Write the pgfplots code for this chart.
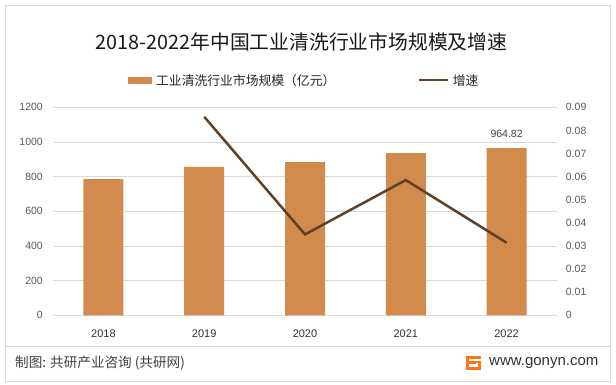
\documentclass[border=0pt]{standalone}
\usepackage{pgfplots}
\pgfplotsset{compat=1.18}
\usepackage{fontspec}
\setmainfont{Liberation Sans}
\newfontfamily\cjk{Noto Sans CJK SC}
\definecolor{barcol}{HTML}{D38B4D}
\definecolor{linecol}{HTML}{5E4127}
\definecolor{gridcol}{HTML}{D9D9D9}
\definecolor{tickcol}{HTML}{595959}
\definecolor{xcol}{HTML}{333333}
\definecolor{framecol}{HTML}{D9D9D9}
\begin{document}
\begin{tikzpicture}
\path[use as bounding box] (0pt,0pt) rectangle (616pt,385pt);
\fill[white] (0pt,0pt) rectangle (616pt,385pt);
\draw[framecol, line width=0.8pt] (5.5pt,4pt) rectangle (610pt,380pt);
\draw[framecol, line width=0.8pt] (5.5pt,39pt) -- (610pt,39pt);
% title
\node[font=\cjk\fontsize{19.8}{22}\selectfont, text=black!90, inner sep=0pt] at (301.5pt,343pt) {2018-2022年中国工业清洗行业市场规模及增速};
% footer
\node[font=\cjk\fontsize{13.6}{15}\selectfont, text=black!75, anchor=west, inner sep=0pt] at (15pt,22pt) {制图: 共研产业咨询 (共研网)};
\node[font=\fontsize{15}{17}\selectfont, text=black!80, anchor=west, inner sep=0pt] at (489pt,22pt) {www.gonyn.com};
\fill[orange!80!red!90] (466pt,15pt) rectangle (481pt,29pt);
\fill[white] (469pt,24pt) rectangle (481pt,26pt);
\fill[white] (469pt,18pt) rectangle (476pt,21pt);
\fill[white] (476pt,18pt) rectangle (478pt,22pt);

\begin{axis}[
  at={(53pt,69.7pt)}, anchor=south west,
  scale only axis, width=504pt, height=208pt,
  xmin=-0.5, xmax=4.5, ymin=0, ymax=1200,
  xtick={0,1,2,3,4}, xticklabels={2018,2019,2020,2021,2022},
  ytick={0,200,...,1200},
  ymajorgrids, grid style={gridcol, line width=0.8pt},
  axis line style={draw=none},
  major tick length=0pt,
  /pgf/number format/assume math mode=true,
  /pgf/number format/1000 sep={},
  yticklabel style={font=\fontsize{10.5}{12}\selectfont, text=tickcol, inner sep=0pt, anchor=east, xshift=-10pt},
  xticklabel style={font=\fontsize{11}{13}\selectfont, text=xcol, inner sep=0pt, anchor=north, yshift=-14pt},
  legend style={at={(axis description cs:0.1488,1.1312)}, anchor=west, draw=none, fill=none,
     inner sep=0pt, font=\cjk\fontsize{12.8}{14}\selectfont, text=black!85,
     nodes={inner sep=0pt, text depth=0pt},
     /tikz/every even column/.append style={column sep=82pt},
     /tikz/every odd column/.append style={column sep=4pt}},
  legend columns=2,
  legend cell align=left,
  clip=false,
]
\addplot[ybar, bar width=40pt, fill=barcol, draw=none,
  nodes near coords={\pgfplotspointmeta}, point meta=explicit symbolic,
  nodes near coords style={font=\fontsize{10.5}{12}\selectfont, text=black!75, anchor=south, inner sep=0pt, yshift=10pt},
  legend image code/.code={\fill[barcol] (0pt,-3.5pt) rectangle (24pt,3.5pt);}]
  coordinates {(0,786)[] (1,856)[] (2,884)[] (3,936)[] (4,964.82)[964.82]};
\addlegendentry{工业清洗行业市场规模（亿元）}
\addlegendimage{legend image code/.code={\draw[linecol, line width=2.5pt] (0pt,0pt) -- (29pt,0pt);}}
\addlegendentry{增速}
\end{axis}

\begin{axis}[
  at={(53pt,69.7pt)}, anchor=south west,
  scale only axis, width=504pt, height=208pt,
  xmin=-0.5, xmax=4.5, ymin=0, ymax=0.09,
  axis x line=none,
  axis y line*=right,
  axis line style={draw=none},
  major tick length=0pt,
  scaled y ticks=false,
  ytick={0,0.01,0.02,0.03,0.04,0.05,0.06,0.07,0.08,0.09},
  yticklabels={0,0.01,0.02,0.03,0.04,0.05,0.06,0.07,0.08,0.09},
  yticklabel style={font=\fontsize{10.5}{12}\selectfont, text=tickcol, inner sep=0pt, anchor=west, xshift=8.7pt},
]
\addplot[linecol, line width=2.5pt, mark=none, line join=miter] coordinates {(1,0.0859) (2,0.0350) (3,0.0585) (4,0.0314)};
\end{axis}
\end{tikzpicture}
\end{document}
